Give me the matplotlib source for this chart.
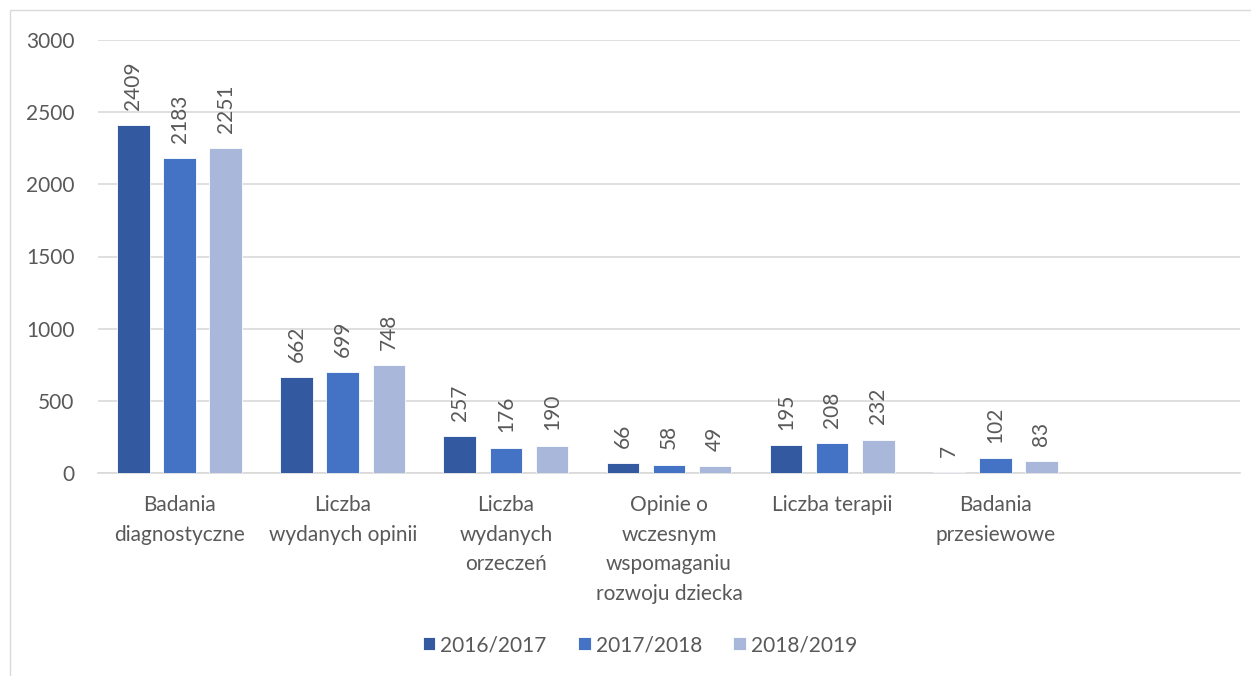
import matplotlib.pyplot as plt
import matplotlib.patches as mpatches
import numpy as np

plt.rcParams['font.family'] = ['Lato', 'DejaVu Sans']

# categories (last slot is empty in the original chart)
categories = ['Badania\ndiagnostyczne', 'Liczba\nwydanych opinii', 'Liczba\nwydanych\norzeczeń',
              'Opinie o\nwczesnym\nwspomaganiu\nrozwoju dziecka', 'Liczba terapii',
              'Badania\nprzesiewowe', '']
series_names = ['2016/2017', '2017/2018', '2018/2019']
v_2016 = [2409, 662, 257, 66, 195, 7]
v_2017 = [2183, 699, 176, 58, 208, 102]
v_2018 = [2251, 748, 190, 49, 232, 83]
colors = ['#335AA1', '#4472C4', '#A9B7DA']

txt = '#595959'
fs = 15

fig = plt.figure(figsize=(12.51, 6.76), dpi=100)
# outer chart frame
fig.patches.append(mpatches.Rectangle((10/1251, -0.1), 1.2, 1 - 10/676 + 0.1,
                                      transform=fig.transFigure, fill=False,
                                      edgecolor='#D9D9D9', linewidth=1))
ax = fig.add_axes([98/1251, 1 - 473/676, (1240 - 98)/1251, (473 - 40)/676])

x = np.arange(len(categories))
w = 0.2
step = 0.283
for i, vals in enumerate([v_2016, v_2017, v_2018]):
    xs = x[:len(vals)] + (i - 1) * step
    ax.bar(xs, vals, width=w, color=colors[i], edgecolor='white',
           linewidth=0.6, label=series_names[i], zorder=3)
    for xi, v in zip(xs, vals):
        ax.annotate(str(v), (xi, v), xytext=(0, 11), textcoords='offset points',
                    rotation=90, ha='center', va='bottom', fontsize=fs, color=txt)

ax.set_xlim(-0.5, len(categories) - 0.5)
ax.set_ylim(0, 3000)
ax.set_yticks(range(0, 3001, 500))
ax.yaxis.grid(True, color='#D9D9D9', linewidth=1.2, zorder=0)
ax.set_axisbelow(True)
ax.set_xticks(x)
ax.set_xticklabels(categories, fontsize=fs, color=txt, linespacing=1.6)
ax.tick_params(axis='both', length=0, labelsize=fs, labelcolor=txt)
ax.tick_params(axis='x', pad=16)
ax.tick_params(axis='y', pad=17)
for s in ['top', 'right', 'left']:
    ax.spines[s].set_visible(False)
ax.spines['bottom'].set_color('#D9D9D9')
ax.spines['bottom'].set_linewidth(1.2)

leg = fig.legend(loc='center', bbox_to_anchor=(640/1251, 1 - 645/676), ncol=3,
                 frameon=False, fontsize=fs, handlelength=0.6, handleheight=0.6,
                 handletextpad=0.25, columnspacing=1.5, labelcolor=txt)

fig.savefig('out.png', dpi=100)
